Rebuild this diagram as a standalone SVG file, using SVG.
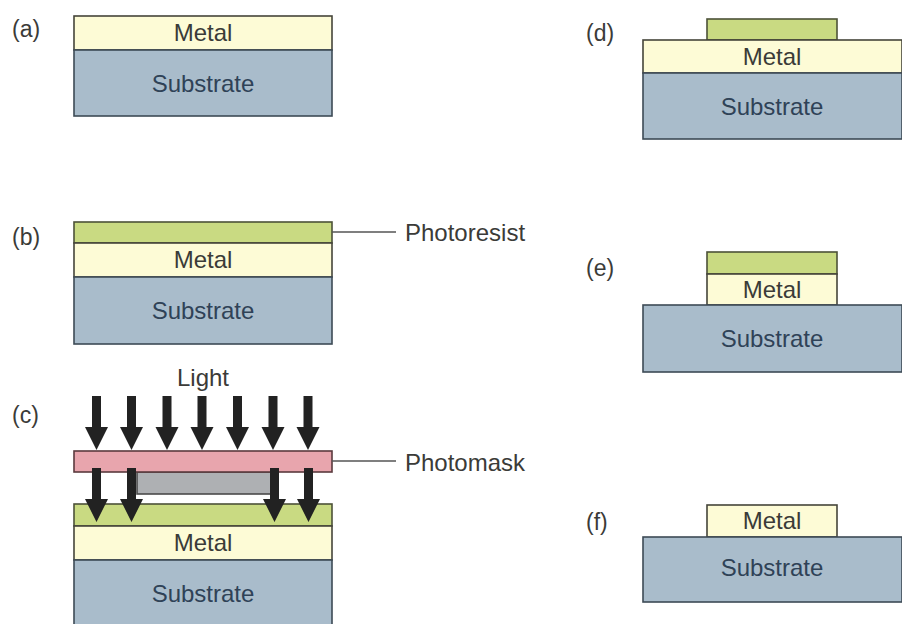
<svg xmlns="http://www.w3.org/2000/svg" width="902" height="624" viewBox="0 0 902 624">
<style>
text{font-family:"Liberation Sans",Arial,sans-serif;font-size:24px;fill:#3b3b38}
.p{font-size:23px}
.c{text-anchor:middle}
.s{fill:#a9bccb;stroke:#3d4a55;stroke-width:1.6}
.m{fill:#fdfbd6;stroke:#45453a;stroke-width:1.6}
.r{fill:#c9da82;stroke:#4d5238;stroke-width:1.6}
.st{fill:#2f4257}
.l{stroke:#555;stroke-width:1.6;fill:none}
</style>
<defs>
<path id="arr" d="M-4.5 0H4.5V31H11.5L0 54L-11.5 31H-4.5Z" fill="#222"/>
</defs>
<rect width="902" height="624" fill="#fff"/>
<g id="a">
<text class="p" x="12" y="37">(a)</text>
<rect class="m" x="74" y="16" width="258" height="34"/><rect class="s" x="74" y="50" width="258" height="66"/>
<text class="c" x="203" y="41">Metal</text><text class="c st" x="203" y="92">Substrate</text>
</g>
<g id="b">
<text class="p" x="12" y="245">(b)</text>
<rect class="r" x="74" y="222" width="258" height="21"/><rect class="m" x="74" y="243" width="258" height="34"/><rect class="s" x="74" y="277" width="258" height="67"/>
<text class="c" x="203" y="268">Metal</text><text class="c st" x="203" y="319">Substrate</text>
<text x="405" y="241">Photoresist</text>
</g>
<g id="c">
<text class="p" x="12" y="423">(c)</text>
<text class="c" x="203" y="386">Light</text>
<rect class="r" x="74" y="504" width="258" height="22"/><rect class="m" x="74" y="526" width="258" height="34"/><rect class="s" x="74" y="560" width="258" height="70"/>
<text class="c" x="203" y="551">Metal</text><text class="c st" x="203" y="602">Substrate</text>
<rect x="137" y="472" width="134" height="22" fill="#aeb0b3" stroke="#4a4a4a" stroke-width="1.6"/>
<rect x="74" y="451" width="258" height="21" fill="#e8a5ad" stroke="#5a3a3e" stroke-width="1.6"/>
<text x="405" y="471">Photomask</text>
</g>
<g id="d">
<text class="p" x="586" y="41">(d)</text>
<rect class="r" x="707" y="19" width="130" height="21"/><rect class="m" x="643" y="40" width="259" height="33"/><rect class="s" x="643" y="73" width="259" height="66"/>
<text class="c" x="772" y="65">Metal</text><text class="c st" x="772" y="115">Substrate</text>
</g>
<g id="e">
<text class="p" x="586" y="276">(e)</text>
<rect class="r" x="707" y="252" width="130" height="22"/><rect class="m" x="707" y="274" width="130" height="31"/><rect class="s" x="643" y="305" width="259" height="67"/>
<text class="c" x="772" y="298">Metal</text><text class="c st" x="772" y="347">Substrate</text>
</g>
<g id="f">
<text class="p" x="586" y="530">(f)</text>
<rect class="m" x="707" y="505" width="130" height="32"/><rect class="s" x="643" y="537" width="259" height="65"/>
<text class="c" x="772" y="529">Metal</text><text class="c st" x="772" y="576">Substrate</text>
</g>
<g id="connectors">
<path class="l" d="M332 232H396M332 461H396"/>
<use href="#arr" x="96.5" y="396"/><use href="#arr" x="131.5" y="396"/><use href="#arr" x="167" y="396"/><use href="#arr" x="202" y="396"/><use href="#arr" x="237.5" y="396"/><use href="#arr" x="273" y="396"/><use href="#arr" x="308" y="396"/>
<use href="#arr" x="96.5" y="468"/><use href="#arr" x="131.5" y="468"/><use href="#arr" x="274.5" y="468"/><use href="#arr" x="308.5" y="468"/>
</g>
</svg>
